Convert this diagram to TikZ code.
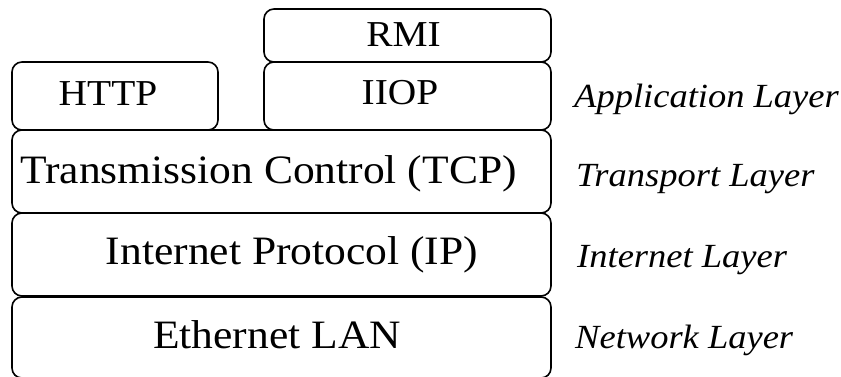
\documentclass[tikz,border=0pt]{standalone}
\usepackage{fontspec}
\setmainfont{Liberation Serif}
\newfontfamily\boxfont[FakeStretch=1.08]{Liberation Serif}
\newfontfamily\layerfont[FakeStretch=1.08]{Liberation Serif}
\tikzset{
  layerbox/.style={draw=black, line width=1.6pt, rounded corners=10pt,
    rectangle, inner sep=0pt, fill=white},
  smalltxt/.style={anchor=base, inner sep=0pt, font=\boxfont\fontsize{36.5}{36}\selectfont},
  bigtxt/.style={anchor=base, inner sep=0pt, font=\boxfont\fontsize{40.3}{40}\selectfont},
  layertxt/.style={anchor=base west, inner sep=0pt, font=\layerfont\itshape\fontsize{33.8}{34}\selectfont}
}
\begin{document}
\begin{tikzpicture}[x=1pt, y=-1pt]
  \fill[white] (0,0) rectangle (841,376);
  \useasboundingbox (0,0) rectangle (841,376);

  % protocol stack boxes
  \node[layerbox, minimum width=287pt, minimum height=53pt] (rmi) at (407.5,35.5) {};
  \node[layerbox, minimum width=287pt, minimum height=68pt] (iiop) at (407.5,96) {};
  \node[layerbox, minimum width=206pt, minimum height=68pt] (http) at (115,96) {};
  \node[layerbox, minimum width=539pt, minimum height=83pt] (tcp) at (281.5,171.5) {};
  \node[layerbox, minimum width=539pt, minimum height=83pt] (ip) at (281.5,254.5) {};
  \node[layerbox, minimum width=539pt, minimum height=81pt] (eth) at (281.5,337.5) {};

  % protocol names
  \node[smalltxt] (rmitxt) at (403.5,46) {RMI};
  \node[smalltxt] (iioptxt) at (400,104.5) {IIOP};
  \node[smalltxt] (httptxt) at (108,105.5) {HTTP};
  \node[bigtxt] (tcptxt) at (268.5,183) {Transmission Control (TCP)};
  \node[bigtxt] (iptxt) at (292,264) {Internet Protocol (IP)};
  \node[bigtxt] (ethtxt) at (277,348) {Ethernet LAN};

  % layer names
  \node[layertxt] (app) at (574,107) {Application Layer};
  \node[layertxt] (trans) at (576,186.5) {Transport Layer};
  \node[layertxt] (inet) at (577,267) {Internet Layer};
  \node[layertxt] (net) at (575,348.5) {Network Layer};
\end{tikzpicture}
\end{document}
